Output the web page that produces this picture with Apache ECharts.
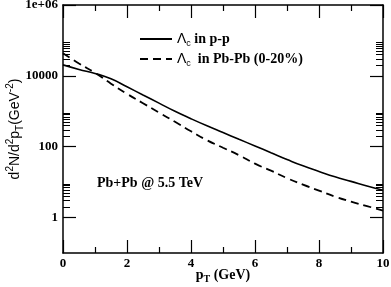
<!DOCTYPE html>
<html>
<head>
<meta charset="utf-8">
<script src="https://cdn.jsdelivr.net/npm/echarts@6/dist/echarts.min.js"></script>
<style>html,body{margin:0;padding:0;background:#fff}#c{width:391px;height:287px}</style>
</head>
<body>
<div id="c"></div>
<script>
const pT = [0,0.5,1,1.5,2,2.5,3,3.5,4,4.5,5,5.5,6,6.5,7,7.5,8,8.5,9,9.5,10];
const ppValues = [20400,15200,11700,8230,4900,2880,1700,1000,617,389,251,162,105,67.6,43.6,28.8,20.0,14.1,10.5,7.76,5.89];
const pbValues = [43600,22300,12200,6030,3110,1690,919,506,273,152,93.7,57.6,33.2,21.1,13.0,8.5,5.76,3.90,2.82,2.11,1.58];
const yMajorValues = [1,100,10000,1000000];
const yMajorLabels = ['1','100','10000','1e+06'];
const yMinorValues = [2,3,4,5,6,7,8,9,200,300,400,500,600,700,800,900,20000,30000,40000,50000,60000,70000,80000,90000];

const SERIF = 'Liberation Serif';
const SANS = 'Liberation Sans';

const chart = echarts.init(document.getElementById('c'), null, {renderer:'canvas'});

const axisLineStyle = {color:'#000', width:1.5};
function yAx(opts){
  return Object.assign({
    type:'log', min:0.1, max:1e6, logBase:10,
    splitLine:{show:false},
    axisLine:{show:false},
    axisLabel:{show:false},
    axisTick:{show:true, inside:true, length:7, lineStyle:{color:'#000', width:1}, customValues:yMinorValues}
  }, opts);
}
function xAx(opts){
  return Object.assign({
    type:'value', min:0, max:10, interval:2,
    splitLine:{show:false},
    axisLine:{show:true, lineStyle:axisLineStyle},
    axisLabel:{show:false},
    axisTick:{show:true, inside:true, length:13, lineStyle:{color:'#000', width:1.2}},
    minorTick:{show:true, splitNumber:2, length:6, lineStyle:{color:'#000', width:1.2}}
  }, opts);
}
const legendRich = {
  l:{fontFamily:SANS, fontSize:14, color:'#000', lineHeight:18},
  s:{fontFamily:SANS, fontSize:9, color:'#000', lineHeight:18, verticalAlign:'bottom', padding:[8,0,0,0]},
  t:{fontFamily:SERIF, fontWeight:'bold', fontSize:14, color:'#000', lineHeight:18}
};

chart.setOption({
  animation:false,
  backgroundColor:'#fff',
  color:['#000','#000'],
  grid:{left:63, right:8, top:5, bottom:34, containLabel:false, outerBoundsMode:'none'},
  legend:[
    {data:['pp'], left:134, top:26, itemWidth:32, itemHeight:14, itemGap:0,
     itemStyle:{opacity:0}, textStyle:{rich:legendRich},
     formatter:()=>'{l|Λ}{s|c}{t| in p-p}'},
    {data:['pbpb'], left:134, top:46, itemWidth:32, itemHeight:14, itemGap:0,
     itemStyle:{opacity:0}, textStyle:{rich:legendRich},
     formatter:()=>'{l|Λ}{s|c}{t|  in Pb-Pb (0-20%)}'}
  ],
  xAxis:[
    xAx({position:'bottom',
      axisLabel:{show:true, fontFamily:SERIF, fontWeight:'bold', fontSize:13, color:'#000', margin:4},
      name:'{a|p}{b|T}{a| (GeV)}', nameLocation:'middle', nameGap:13, nameMoveOverlap:false,
      nameTextStyle:{rich:{
        a:{fontFamily:SERIF, fontWeight:'bold', fontSize:14, color:'#000', lineHeight:18},
        b:{fontFamily:SERIF, fontWeight:'bold', fontSize:10, color:'#000', lineHeight:18, verticalAlign:'bottom', padding:[8,0,0,0]}
      }}
    }),
    xAx({position:'top'})
  ],
  yAxis:[
    yAx({position:'left',
      axisLine:{show:true, lineStyle:axisLineStyle},
      axisTick:{show:true, inside:true, length:13, lineStyle:{color:'#000', width:1.2}, customValues:yMajorValues},
      axisLabel:{show:true, customValues:yMajorValues, fontFamily:SERIF, fontWeight:'bold', fontSize:13, color:'#000', margin:5,
        formatter:v=>{const i=yMajorValues.findIndex(m=>Math.abs(m-v)/m<1e-6); return i>=0?yMajorLabels[i]:'';}},
      name:'{a|d}{p|2}{a|N/d}{p|2}{a|p}{b|T}{a|(GeV}{p|-2}{a|)}', nameLocation:'middle', nameGap:38, nameMoveOverlap:false,
      nameTextStyle:{rich:{
        a:{fontFamily:SANS, fontSize:14, color:'#000', lineHeight:20},
        p:{fontFamily:SANS, fontSize:10, color:'#000', lineHeight:20, verticalAlign:'top', padding:[0,0,8,0]},
        b:{fontFamily:SANS, fontSize:10, color:'#000', lineHeight:20, verticalAlign:'bottom', padding:[8,0,0,0]}
      }}
    }),
    yAx({position:'left'}),
    yAx({position:'right',
      axisLine:{show:true, lineStyle:axisLineStyle},
      axisTick:{show:true, inside:true, length:13, lineStyle:{color:'#000', width:1.2}, customValues:yMajorValues}}),
    yAx({position:'right'})
  ],
  graphic:[
    {type:'text', left:97, top:176, style:{text:'Pb+Pb @ 5.5 TeV', font:'bold 14px "Liberation Serif"', fill:'#000'}}
  ],
  series:[
    {name:'pp', type:'line', xAxisIndex:0, yAxisIndex:0, symbol:'none', smooth:true,
     itemStyle:{color:'#000'},
     lineStyle:{color:'#000', width:1.6, type:'solid'},
     data:pT.map((x,i)=>[x, ppValues[i]])},
    {name:'pbpb', type:'line', xAxisIndex:0, yAxisIndex:0, symbol:'none', smooth:true,
     itemStyle:{color:'#000'},
     lineStyle:{color:'#000', width:1.8, type:[8,5]},
     data:pT.map((x,i)=>[x, pbValues[i]])}
  ]
});
</script>
</body>
</html>
